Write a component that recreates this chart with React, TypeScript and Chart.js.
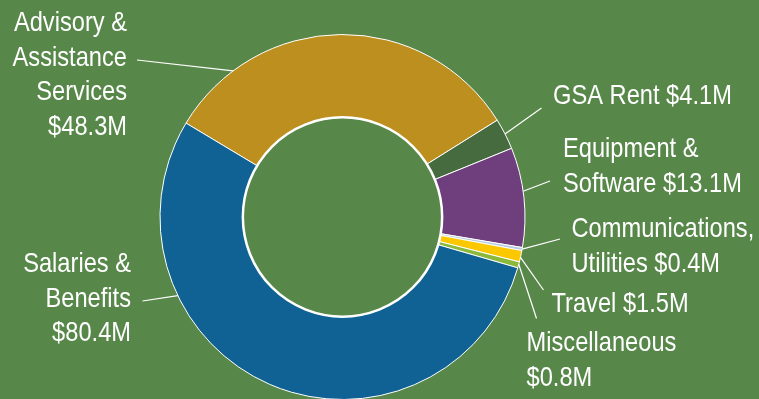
import React, { useEffect, useRef } from "react";
import { Chart, registerables } from "chart.js";

Chart.register(...registerables);

const categories = [
  "Advisory & Assistance Services",
  "GSA Rent",
  "Equipment & Software",
  "Communications, Utilities",
  "Travel",
  "Miscellaneous",
  "Salaries & Benefits",
];
const values = [48.3, 4.1, 13.1, 0.4, 1.5, 0.8, 80.4];
const labelLines = [
  ["Advisory &", "Assistance", "Services", "{v}"],
  ["GSA Rent {v}"],
  ["Equipment &", "Software {v}"],
  ["Communications,", "Utilities {v}"],
  ["Travel {v}"],
  ["Miscellaneous", "{v}"],
  ["Salaries &", "Benefits", "{v}"],
];
const colors = ["#BD8F1E", "#456B3E", "#6F3F7D", "#B4CDE4", "#FBC800", "#8CB93A", "#106294"];

const BG = "#58874A";
const FONT = "28px 'Liberation Sans', Arial, sans-serif";
const X_SCALE = 0.845;
const LINE_H = 34.5;

// label placement: fraction along the arc for leader anchor, leader end, text anchor
const labelLayout = [
  { frac: 0.19, ex: 137, ey: 60, tx: 127, ty: 31, align: "right" },
  { frac: 0.5, ex: 541.5, ey: 108, tx: 553, ty: 104, align: "left" },
  { frac: 0.44, ex: 550, ey: 181, tx: 563, ty: 157, align: "left" },
  { frac: 0.5, ex: 560, ey: 239, tx: 571.5, ty: 237, align: "left" },
  { frac: 0.6, ex: 543.5, ey: 290, tx: 551.5, ty: 312, align: "left" },
  { frac: 0.4, ex: 536.5, ey: 318.5, tx: 526.5, ty: 351, align: "left" },
  { frac: 0.71, ex: 142.5, ey: 301, tx: 131, ty: 272, align: "right" },
];

const labelPlugin = {
  id: "donutLabels",
  afterDatasetsDraw(chart: any) {
    const ctx = chart.ctx;
    const meta = chart.getDatasetMeta(0);
    const first = meta.data[0];
    if (!first) return;
    const p0 = first.getProps(["x", "y", "innerRadius"], true);
    ctx.save();
    ctx.strokeStyle = "#ffffff";
    ctx.lineWidth = 2.5;
    ctx.beginPath();
    ctx.arc(p0.x, p0.y, p0.innerRadius, 0, Math.PI * 2);
    ctx.stroke();
    ctx.restore();

    meta.data.forEach((arc: any, i: number) => {
      const p = arc.getProps(["x", "y", "startAngle", "endAngle", "outerRadius"], true);
      const L = labelLayout[i];
      const a = p.startAngle + (p.endAngle - p.startAngle) * L.frac;
      const ax = p.x + Math.cos(a) * p.outerRadius;
      const ay = p.y + Math.sin(a) * p.outerRadius;
      ctx.save();
      ctx.strokeStyle = "#ffffff";
      ctx.lineWidth = 1.2;
      ctx.beginPath();
      ctx.moveTo(ax, ay);
      ctx.lineTo(L.ex, L.ey);
      ctx.stroke();
      ctx.restore();
      const vText = "$" + values[i].toFixed(1) + "M";
      labelLines[i].forEach((line, j) => {
        ctx.save();
        ctx.fillStyle = "#ffffff";
        ctx.font = FONT;
        ctx.textAlign = L.align;
        ctx.textBaseline = "alphabetic";
        ctx.translate(L.tx, L.ty + j * LINE_H);
        ctx.scale(X_SCALE, 1);
        ctx.fillText(line.replace("{v}", vText), 0, 0);
        ctx.restore();
      });
    });
  },
};

export default function App() {
  const ref = useRef<HTMLCanvasElement | null>(null);
  useEffect(() => {
    document.body.style.margin = "0";
    const canvas = ref.current;
    if (!canvas) return;
    const chart = new Chart(canvas, {
      type: "doughnut",
      data: {
        labels: categories,
        datasets: [
          {
            data: values,
            backgroundColor: colors,
            borderColor: "#ffffff",
            borderWidth: 1,
          },
        ],
      },
      options: {
        animation: false,
        responsive: false,
        maintainAspectRatio: false,
        devicePixelRatio: 1,
        rotation: -59.04,
        cutout: "54.6%",
        layout: { padding: { left: 159.5, right: 233.5, top: 34, bottom: 20 } },
        plugins: { legend: { display: false }, tooltip: { enabled: false } },
      },
      plugins: [labelPlugin],
    });
    return () => chart.destroy();
  }, []);
  return (
    <div style={{ width: 759, height: 399, overflow: "hidden", background: BG, position: "relative" }}>
      <canvas ref={ref} width={759} height={420} style={{ display: "block" }} />
    </div>
  );
}
